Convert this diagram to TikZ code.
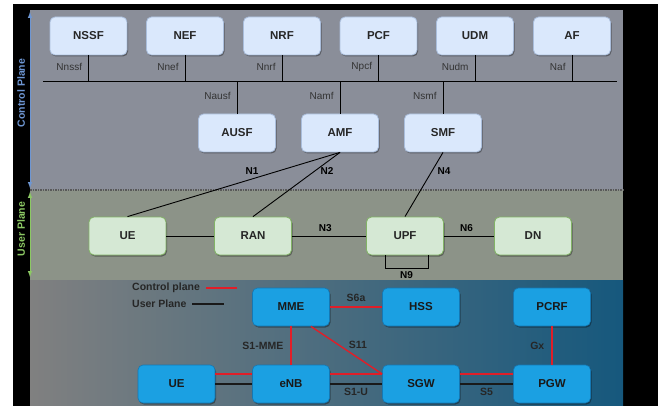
\documentclass[tikz,border=0pt]{standalone}
\usepackage{fontspec}
\setmainfont{Liberation Sans}
\usetikzlibrary{shadows,calc}
\definecolor{cpbg}{RGB}{138,142,153}
\definecolor{upbg}{RGB}{140,147,136}
\definecolor{lgray}{RGB}{128,128,128}
\definecolor{dteal}{RGB}{22,88,125}
\definecolor{cpfill}{RGB}{218,232,252}
\definecolor{cpdraw}{RGB}{170,190,220}
\definecolor{upfill}{RGB}{213,232,212}
\definecolor{updraw}{RGB}{130,179,102}
\definecolor{bxfill}{RGB}{27,160,226}
\definecolor{bxdraw}{RGB}{20,120,180}
\definecolor{cplabel}{RGB}{110,150,210}
\definecolor{uplabel}{RGB}{140,200,100}
\definecolor{redl}{RGB}{225,30,40}
\begin{document}
\begin{tikzpicture}[x=1pt,y=-1pt,
  boxbase/.style={rounded corners=5pt, minimum width=77pt, minimum height=38pt, inner sep=0pt,
     font=\fontsize{11.5}{12}\selectfont\bfseries,
     drop shadow={shadow xshift=1pt, shadow yshift=-1.5pt, opacity=0.35, fill=black}},
  cpbox/.style={boxbase, fill=cpfill, draw=cpdraw, line width=0.8pt, text=black!85},
  upbox/.style={boxbase, fill=upfill, draw=updraw, line width=0.8pt, text=black!85},
  bxbox/.style={boxbase, fill=bxfill, draw=bxdraw, line width=0.6pt, text=black!90},
  iflabel/.style={font=\fontsize{10}{11}\selectfont, text=black!80, inner sep=0pt},
  nlabel/.style={font=\fontsize{10}{11}\selectfont\bfseries, text=black, inner sep=0pt},
  slabel/.style={font=\fontsize{10.5}{11}\selectfont\bfseries, text=black!85, inner sep=0pt},
  conn/.style={draw=black, line width=0.9pt},
  redconn/.style={draw=redl, line width=1.4pt},
  blkconn/.style={draw=black!90, line width=1.2pt},
]
\useasboundingbox (0,0) rectangle (658,406);
\fill[white] (0,0) rectangle (658,406);
\fill[black] (13,4) rectangle (658,406);
% panels
\fill[cpbg] (30,10) rectangle (623,190);
\fill[upbg] (30,190) rectangle (623,280);
\shade[left color=lgray, right color=dteal] (30,280) rectangle (623,406);
\draw[black!65, line width=1.6pt, dash pattern=on 1.5pt off 1pt] (30,190) -- (623,190);
% side arrows
\draw[cplabel, line width=1pt, -latex] (30,100) -- (30,12);
\draw[cplabel, line width=1pt, -latex] (30,100) -- (30,188);
\draw[uplabel, line width=1pt, -latex] (30,234) -- (30,192);
\draw[uplabel, line width=1pt, -latex] (30,234) -- (30,277);
\node[rotate=90, text=cplabel, font=\fontsize{10.5}{11}\selectfont\bfseries] (cplab) at (21,93) {Control Plane};
\node[rotate=90, text=uplabel, font=\fontsize{10.5}{11}\selectfont\bfseries] (uplab) at (21,229) {User Plane};
% control plane nodes
\node[cpbox] (nssf) at (88.5,36) {NSSF};
\node[cpbox] (nef) at (185,36) {NEF};
\node[cpbox] (nrf) at (282,36) {NRF};
\node[cpbox] (pcf) at (378.5,36) {PCF};
\node[cpbox] (udm) at (475,36) {UDM};
\node[cpbox] (af) at (572,36) {AF};
\node[cpbox] (ausf) at (237,133) {AUSF};
\node[cpbox] (amf) at (340,133) {AMF};
\node[cpbox] (smf) at (443,133) {SMF};
% bus
\coordinate (busL) at (43,81);
\coordinate (busR) at (617,81);
\draw[conn] (busL) -- (busR);
\foreach \n/\t in {nssf/Nnssf, nef/Nnef, nrf/Nnrf, pcf/Npcf, udm/Nudm, af/Naf}{
  \draw[conn] (\n.south) -- node[iflabel, left=6pt, pos=0.45] {\t} (\n.south |- busL);
}
\foreach \n/\t in {ausf/Nausf, amf/Namf, smf/Nsmf}{
  \draw[conn] (\n.north) -- node[iflabel, left=6pt, pos=0.55] {\t} (\n.north |- busL);
}
% user plane nodes
\node[upbox] (ue) at (127.5,236) {UE};
\node[upbox] (ran) at (253,236) {RAN};
\node[upbox] (upf) at (405,236) {UPF};
\node[upbox] (dn) at (533,236) {DN};
\draw[conn] (amf.south) -- (ue.north);
\draw[conn] (amf.south) -- (ran.north);
\draw[conn] (smf.south) -- (upf.north);
\node[nlabel] (n1) at (252,171) {N1};
\node[nlabel] (n2) at (327,171) {N2};
\node[nlabel] (n4) at (444,171) {N4};
\draw[conn] (ue) -- (ran);
\draw[conn] (ran) -- node[nlabel, above=4pt, pos=0.45] {N3} (upf);
\draw[conn] (upf) -- node[nlabel, above=4pt, pos=0.45] {N6} (dn);
\draw[conn] ([xshift=-20pt]upf.south) -- ++(0,13) -| node[nlabel, below=3pt, pos=0.25] {N9} ([xshift=23pt]upf.south);
% legend
\node[slabel, anchor=west] (lgc) at (132,288) {Control plane};
\coordinate (lgcA) at (206,288);
\coordinate (lgcB) at (237,288);
\draw[redconn] (lgcA) -- (lgcB);
\node[slabel, anchor=west] (lgu) at (132,304) {User Plane};
\coordinate (lguA) at (192,304);
\coordinate (lguB) at (224,304);
\draw[blkconn] (lguA) -- (lguB);
% EPC nodes
\node[bxbox] (mme) at (291,307) {MME};
\node[bxbox] (hss) at (421,307) {HSS};
\node[bxbox] (pcrf) at (552,307) {PCRF};
\node[bxbox] (ue2) at (176.5,384) {UE};
\node[bxbox] (enb) at (291,384) {eNB};
\node[bxbox] (sgw) at (421,384) {SGW};
\node[bxbox] (pgw) at (552,384) {PGW};
\draw[redconn] (mme) -- node[slabel, above=5pt, pos=0.5] {S6a} (hss);
\draw[redconn] (mme) -- node[slabel, left=7pt] {S1-MME} (enb);
\draw[redconn] (pcrf) -- node[slabel, left=7pt] {Gx} (pgw);
\draw[redconn] ([xshift=-19pt]mme.south east) -- ([yshift=10pt]sgw.west);
\node[slabel] (s11) at (358,345) {S11};
\draw[redconn] ([yshift=10pt]ue2.east) -- ([yshift=10pt]enb.west);
\draw[redconn] ([yshift=10pt]enb.east) -- ([yshift=10pt]sgw.west);
\draw[redconn] ([yshift=10pt]sgw.east) -- ([yshift=10pt]pgw.west);
\draw[blkconn] (ue2) -- (enb);
\draw[blkconn] (enb) -- node[slabel, below=4pt] {S1-U} (sgw);
\draw[blkconn] (sgw) -- node[slabel, below=4pt] {S5} (pgw);
\end{tikzpicture}
\end{document}
